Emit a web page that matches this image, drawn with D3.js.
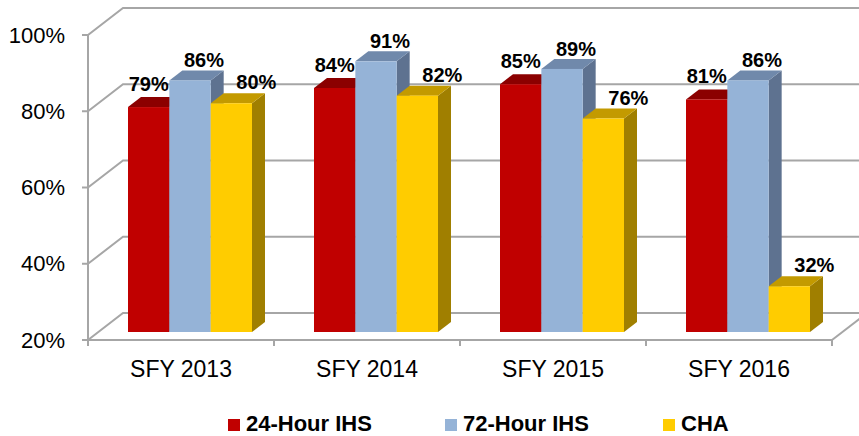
<!DOCTYPE html>
<html>
<head>
<meta charset="utf-8">
<script src="https://cdn.jsdelivr.net/npm/d3@7"></script>
<style>
  html, body { margin: 0; padding: 0; background: #fff; }
  svg { display: block; }
  text { font-family: "Liberation Sans", Arial, sans-serif; }
</style>
</head>
<body>
<svg id="chart" width="859" height="436"></svg>
<script>
// ---- data ----
const categories = ["SFY 2013", "SFY 2014", "SFY 2015", "SFY 2016"];
const seriesNames = ["24-Hour IHS", "72-Hour IHS", "CHA"];
const hour24 = [79, 84, 85, 81];
const hour72 = [86, 91, 89, 86];
const cha = [80, 82, 76, 32];
const yTicks = [20, 40, 60, 80, 100];
const tickLabels = ["20%", "40%", "60%", "80%", "100%"];

const seriesValues = [hour24, hour72, cha];

// ---- styles ----
const colors = [
  { front: "#C00000", top: "#8B0000", side: "#7A0000" },
  { front: "#95B3D7", top: "#7089AB", side: "#5E7290" },
  { front: "#FFCC00", top: "#C39A00", side: "#A07F00" }
];
const gridColor = "#A6A6A6";

const svg = d3.select("#chart");

// front plane geometry
const x0 = d3.scaleBand().domain(categories).range([88, 832]);
const y = d3.scaleLinear().domain([20, 100]).range([340, 35]);
const wallDx = 35, wallDy = -27;     // depth of the back wall
const barPlaneDx = 9, barPlaneDy = -8; // bar front face offset into depth
const barDx = 13, barDy = -10;       // bar depth
const groupW = x0.bandwidth() * 124 / 186;
const xs = d3.scaleBand().domain(d3.range(seriesNames.length)).range([0, groupW]);

// gridlines (side wall diagonals + back wall horizontals)
const grid = svg.append("g");
yTicks.forEach(v => {
  const yy = y(v);
  grid.append("path")
    .attr("d", `M${88},${yy}L${88 + wallDx},${yy + wallDy}L${900},${yy + wallDy}`)
    .attr("fill", "none").attr("stroke", gridColor).attr("stroke-width", 2);
});
// floor right diagonal
grid.append("path")
  .attr("d", `M${832},${y(20)}L${832 + wallDx},${y(20) + wallDy}`)
  .attr("fill", "none").attr("stroke", gridColor).attr("stroke-width", 2);

// axes
const axisG = svg.append("g");
axisG.append("line").attr("x1", 88).attr("x2", 88).attr("y1", y(100)).attr("y2", y(20))
  .attr("stroke", gridColor).attr("stroke-width", 2);
axisG.append("line").attr("x1", 88).attr("x2", 832).attr("y1", y(20)).attr("y2", y(20))
  .attr("stroke", gridColor).attr("stroke-width", 2);
yTicks.forEach((v, i) => {
  axisG.append("line").attr("x1", 82).attr("x2", 88).attr("y1", y(v)).attr("y2", y(v))
    .attr("stroke", gridColor).attr("stroke-width", 2);
  axisG.append("text").attr("x", 65).attr("y", y(v)).attr("dy", "0.35em")
    .attr("text-anchor", "end").attr("font-size", 22).attr("fill", "#000")
    .text(tickLabels[i]);
});
const bounds = categories.map(c => x0(c)).concat([x0.range()[1]]);
bounds.forEach(bx => {
  axisG.append("line").attr("x1", bx).attr("x2", bx).attr("y1", y(20)).attr("y2", y(20) + 6)
    .attr("stroke", gridColor).attr("stroke-width", 2);
});
categories.forEach(c => {
  axisG.append("text").attr("x", x0(c) + x0.bandwidth() / 2).attr("y", 377)
    .attr("text-anchor", "middle").attr("font-size", 23).attr("fill", "#000").text(c);
});

// bars
const barsG = svg.append("g");
const labelDx = [0, 14, 25];
const labelUp = [6, 3, 4];
const labels = [];
categories.forEach((c, ci) => {
  seriesNames.forEach((s, si) => {
    const v = seriesValues[si][ci];
    const xl = x0(c) + (x0.bandwidth() - groupW) / 2 + barPlaneDx + xs(si);
    const xr = xl + xs.bandwidth();
    const yt = y(v) + barPlaneDy;
    const yb = y(20) + barPlaneDy;
    const col = colors[si];
    // side
    barsG.append("path")
      .attr("d", `M${xr},${yt}L${xr + barDx},${yt + barDy}L${xr + barDx},${yb + barDy}L${xr},${yb}Z`)
      .attr("fill", col.side);
    // top
    barsG.append("path")
      .attr("d", `M${xl},${yt}L${xl + barDx},${yt + barDy}L${xr + barDx},${yt + barDy}L${xr},${yt}Z`)
      .attr("fill", col.top);
    // front
    barsG.append("rect").attr("x", xl).attr("y", yt).attr("width", xr - xl).attr("height", yb - yt)
      .attr("fill", col.front);
    labels.push({ x: (xl + xr) / 2 + labelDx[si], y: yt + barDy - labelUp[si], t: v + "%" });
  });
});
svg.append("g").selectAll("text").data(labels).join("text")
  .attr("x", d => d.x).attr("y", d => d.y)
  .attr("text-anchor", "middle").attr("font-size", 20).attr("font-weight", "bold")
  .attr("fill", "#000").text(d => d.t);

// legend
const legendX = [228, 445, 663];
const lg = svg.append("g");
seriesNames.forEach((s, i) => {
  lg.append("rect").attr("x", legendX[i]).attr("y", 419).attr("width", 12).attr("height", 12)
    .attr("fill", colors[i].front);
  lg.append("text").attr("x", legendX[i] + 18).attr("y", 431)
    .attr("font-size", 22).attr("font-weight", "bold").attr("fill", "#000").text(s);
});
</script>
</body>
</html>
